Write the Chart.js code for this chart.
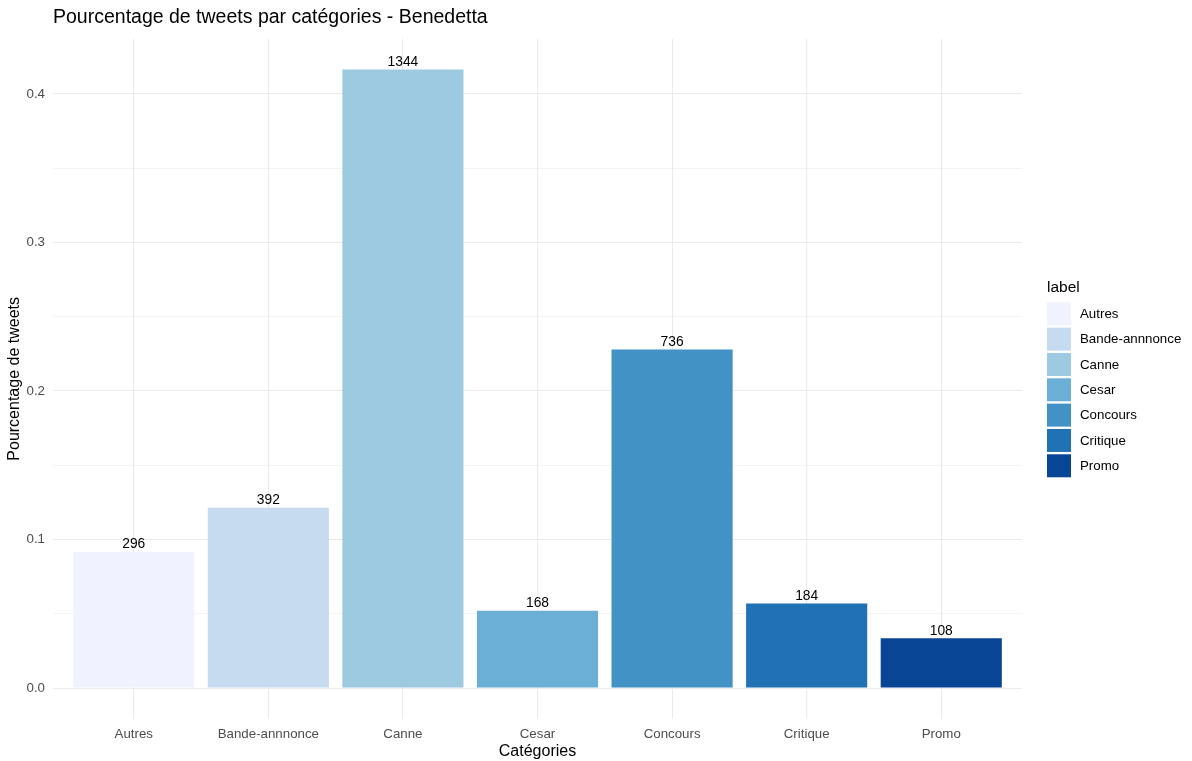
<!DOCTYPE html>
<html>
<head>
<meta charset="utf-8">
<script src="https://cdn.jsdelivr.net/npm/chart.js@4/dist/chart.umd.min.js"></script>
<style>
  html, body { margin: 0; padding: 0; background: #fff; }
  #wrap { width: 1192px; height: 761px; position: relative; }
</style>
</head>
<body>
<div id="wrap"><canvas id="barChart"></canvas></div>
<script>
// data
const categories = ['Autres', 'Bande-annnonce', 'Canne', 'Cesar', 'Concours', 'Critique', 'Promo'];
const shares = [0.0917, 0.1214, 0.4164, 0.0520, 0.2280, 0.0570, 0.0335];
const counts = [296, 392, 1344, 168, 736, 184, 108];
const yMajorTicks = [0, 0.1, 0.2, 0.3, 0.4];
const yMinorTicks = [0.05, 0.15, 0.25, 0.35];
const barColors = ['#EFF3FF', '#C6DBEF', '#9ECAE1', '#6BAED6', '#4292C6', '#2171B5', '#084594'];

const FONT = "'Liberation Sans', Arial, sans-serif";

// count labels above each bar
const countLabels = {
    id: 'countLabels',
    afterDatasetsDraw(chart) {
        const ctx = chart.ctx;
        const meta = chart.getDatasetMeta(0);
        ctx.save();
        ctx.font = '13.8px ' + FONT;
        ctx.fillStyle = '#000';
        ctx.textAlign = 'center';
        ctx.textBaseline = 'alphabetic';
        meta.data.forEach((bar, i) => {
            ctx.fillText(String(counts[i]), bar.x, bar.y - 3.5);
        });
        ctx.restore();
    }
};

// ggplot-like legend on the right
const sideLegend = {
    id: 'sideLegend',
    afterDraw(chart) {
        const ctx = chart.ctx;
        const x0 = 1047;
        ctx.save();
        ctx.fillStyle = '#000';
        ctx.textAlign = 'left';
        ctx.textBaseline = 'middle';
        ctx.font = '15.5px ' + FONT;
        ctx.fillText('label', x0, 288);
        ctx.font = '13.3px ' + FONT;
        chart.data.labels.forEach((lab, i) => {
            const y = 302.3 + i * 25.33;
            ctx.fillStyle = barColors[i];
            ctx.fillRect(x0, y, 24, 23);
            ctx.fillStyle = '#000';
            ctx.fillText(lab, 1080, y + 12);
        });
        ctx.restore();
    }
};

const ctx = document.getElementById('barChart').getContext('2d');
const chart = new Chart(ctx, {
    type: 'bar',
    data: {
        labels: categories,
        datasets: [{
            label: 'label',
            data: shares.map((v, i) => ({ x: i + 1, y: v })),
            backgroundColor: barColors,
            borderWidth: 0,
            categoryPercentage: 1,
            barPercentage: 0.9
        }]
    },
    options: {
        responsive: true,
        maintainAspectRatio: false,
        animation: false,
        layout: { padding: { left: 0, right: 170, top: 0, bottom: 0 } },
        scales: {
            x: {
                type: 'linear',
                min: 0.4,
                max: 7.6,
                offset: false,
                afterBuildTicks: (scale) => {
                    scale.ticks = categories.map((c, i) => ({ value: i + 1 }));
                },
                afterFit: (scale) => { scale.height = 42; },
                grid: { color: '#EBEBEB', lineWidth: 1.1, drawTicks: false, offset: false },
                border: { display: false },
                ticks: {
                    padding: 7,
                    color: '#4D4D4D',
                    font: { family: FONT, size: 13.3 },
                    maxRotation: 0,
                    autoSkip: false,
                    callback: (v) => categories[Math.round(v) - 1]
                },
                title: {
                    display: true,
                    text: 'Catégories',
                    color: '#000',
                    font: { family: FONT, size: 16 },
                    padding: { top: 0, bottom: 0 }
                }
            },
            y: {
                min: -0.0208,
                max: 0.4372,
                afterBuildTicks: (scale) => {
                    scale.ticks = yMajorTicks.concat(yMinorTicks)
                        .sort((a, b) => a - b)
                        .map(v => ({ value: v }));
                },
                afterFit: (scale) => { scale.width = 53; },
                grid: {
                    drawTicks: false,
                    color: '#EBEBEB',
                    lineWidth: (c) => yMajorTicks.includes(c.tick && c.tick.value) ? 1.1 : 0.55
                },
                border: { display: false },
                ticks: {
                    padding: 8,
                    color: '#4D4D4D',
                    font: { family: FONT, size: 13.3 },
                    autoSkip: false,
                    callback: (v) => yMajorTicks.includes(v) ? v.toFixed(1) : ''
                },
                title: {
                    display: true,
                    text: 'Pourcentage de tweets',
                    color: '#000',
                    font: { family: FONT, size: 16 },
                    padding: { top: 4.5, bottom: 4.5 }
                }
            }
        },
        plugins: {
            legend: { display: false },
            tooltip: { enabled: false },
            title: {
                display: true,
                text: 'Pourcentage de tweets par catégories - Benedetta',
                align: 'start',
                fullSize: false,
                color: '#000',
                font: { family: FONT, size: 19.5, weight: 'normal' },
                padding: { top: 6.3, bottom: 9 }
            }
        }
    },
    plugins: [countLabels, sideLegend]
});
</script>
</body>
</html>
